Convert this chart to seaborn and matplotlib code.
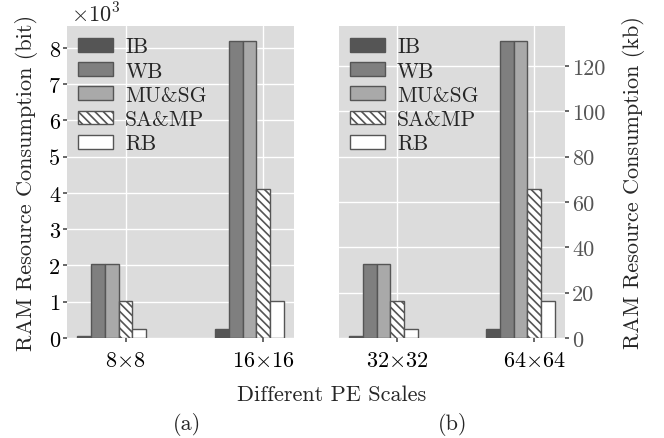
import matplotlib
matplotlib.use("Agg")
import matplotlib.pyplot as plt
import seaborn as sns
import numpy as np

series = ["IB", "WB", "MU&SG", "SA&MP", "RB"]
scales_a = ["8$\\times$8", "16$\\times$16"]
scales_b = ["32$\\times$32", "64$\\times$64"]
# (a) in units of 10^3 bit
vals_a = {
    "IB": [0.064, 0.256],
    "WB": [2.048, 8.192],
    "MU&SG": [2.048, 8.192],
    "SA&MP": [1.024, 4.096],
    "RB": [0.256, 1.024],
}
# (b) in kb
vals_b = {
    "IB": [1.024, 4.096],
    "WB": [32.768, 131.072],
    "MU&SG": [32.768, 131.072],
    "SA&MP": [16.384, 65.536],
    "RB": [4.096, 16.384],
}
yticks_a = [0, 1, 2, 3, 4, 5, 6, 7, 8]
yticks_b = [0, 20, 40, 60, 80, 100, 120]

sns.set_theme(style="darkgrid", rc={
    "axes.facecolor": "#dcdcdc",
    "grid.color": "white",
    "grid.linewidth": 1.0,
    "axes.edgecolor": "none",
    "xtick.bottom": True,
    "ytick.left": True,
    "xtick.color": "#555555",
    "ytick.color": "#555555",
    "xtick.major.size": 3,
    "ytick.major.size": 3,
})
plt.rcParams["font.family"] = ["serif"]
plt.rcParams["font.serif"] = ["cmr10", "DejaVu Serif"]
plt.rcParams["mathtext.fontset"] = "cm"
plt.rcParams["axes.unicode_minus"] = False

FS = 16
LFS = 15.5

styles = {
    "IB": dict(color="#555555", hatch=None),
    "WB": dict(color="#7f7f7f", hatch=None),
    "MU&SG": dict(color="#a9a9a9", hatch=None),
    "SA&MP": dict(color="white", hatch="\\\\\\\\"),
    "RB": dict(color="white", hatch=None),
}
plt.rcParams["hatch.linewidth"] = 1.2
plt.rcParams["hatch.color"] = "#333333"

fig = plt.figure(figsize=(6.64, 4.39), dpi=100)
axa = fig.add_axes([0.101, 0.228, 0.342, 0.7105])
axb = fig.add_axes([0.5105, 0.228, 0.3405, 0.7105])

w = 0.1
offsets = [-3, -2, -1, 0, 1]

def draw(ax, vals, labels, yticks):
    x = np.arange(len(labels))
    for k, s in enumerate(series):
        st = styles[s]
        ax.bar(x + offsets[k] * w, vals[s], width=w, color=st["color"],
               hatch=st["hatch"], edgecolor="#555555", linewidth=1.0,
               label=s, zorder=3)
    ax.set_xticks(x)
    ax.set_xticklabels(labels, fontsize=FS)
    ax.set_yticks(yticks)
    ax.tick_params(axis="y", labelsize=FS, pad=2)
    ax.tick_params(axis="x", pad=6)
    for t in ax.get_yticklabels():
        t.set_color("black")
    for t in ax.get_xticklabels():
        t.set_color("black")
    ax.grid(True, color="white", linewidth=1.0, zorder=0)
    ax.set_axisbelow(True)
    ax.legend(loc="upper left", frameon=False, fontsize=LFS,
              handlelength=1.65, handleheight=0.6, labelspacing=0.22,
              borderaxespad=0.15, handletextpad=0.55, borderpad=0.35)

draw(axa, vals_a, scales_a, yticks_a)
draw(axb, vals_b, scales_b, yticks_b)

axa.set_ylabel("RAM Resource Consumption (bit)", fontsize=FS, labelpad=8)
axb.yaxis.tick_right()
axb.yaxis.set_label_position("right")
axb.tick_params(axis="y", left=False, right=True)
axb.set_ylabel("RAM Resource Consumption (kb)", fontsize=FS, labelpad=12)

axa.text(0.018, 1.013, "$\\times10^3$", transform=axa.transAxes, fontsize=FS,
         ha="left", va="baseline")

fig.text(0.5, 0.1, "Different PE Scales", ha="center", va="center", fontsize=FS)
fig.text(0.282, 0.032, "(a)", ha="center", va="center", fontsize=FS)
fig.text(0.681, 0.032, "(b)", ha="center", va="center", fontsize=FS)

fig.savefig("out.png", dpi=100)
